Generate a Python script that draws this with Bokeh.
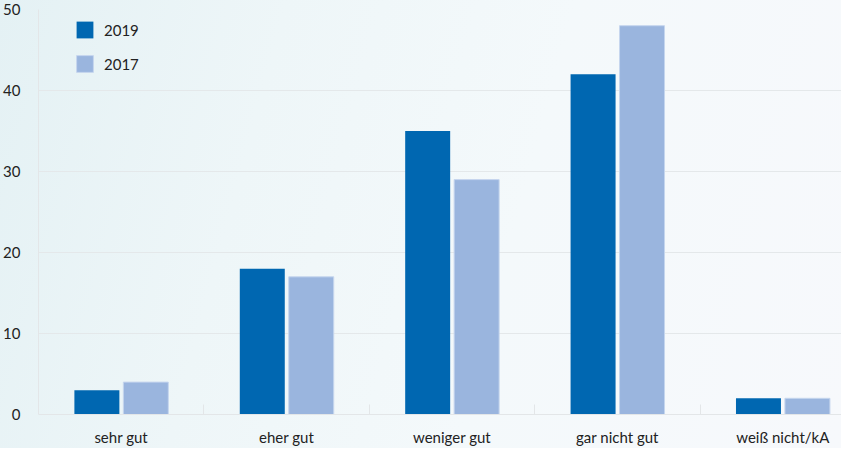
from bokeh.plotting import figure
from bokeh.models import Range1d, FixedTicker, Legend, LegendItem, ColumnDataSource, InlineStyleSheet
from bokeh.embed import file_html
from bokeh.resources import INLINE

categories = ["sehr gut", "eher gut", "weniger gut", "gar nicht gut", "weiß nicht/kA"]
values_2019 = [3, 18, 35, 42, 2]
values_2017 = [4, 17, 29, 48, 2]
y_ticks = [0, 10, 20, 30, 40, 50]

FONT = "Lato"
TXT = "#222222"

p = figure(width=841, height=448, output_backend="svg", toolbar_location=None,
           x_range=Range1d(0, 4.855), y_range=Range1d(0, 50),
           min_border_left=37, min_border_right=0, min_border_top=9, min_border_bottom=29)

p.background_fill_alpha = 0
p.border_fill_alpha = 0
p.outline_line_color = None
p.stylesheets = [InlineStyleSheet(css=
    ":host { background: linear-gradient(105deg, #e4f1f4 0%, #eef6f8 30%, #f4f9fb 60%, #f7f9fc 100%); }")]

idx = list(range(len(categories)))
src = ColumnDataSource(dict(
    x19=[i + 0.353 for i in idx], x17=[i + 0.649 for i in idx],
    v19=values_2019, v17=values_2017))

r19 = p.vbar(x="x19", top="v19", bottom=0, width=0.272, source=src,
             fill_color="#0067b1", line_color=None)
r17 = p.vbar(x="x17", top="v17", bottom=0, width=0.272, source=src,
             fill_color="#9ab5de", line_color="#c6d6ee", line_width=1)

# x axis
xa = p.xaxis[0]
xa.ticker = FixedTicker(ticks=[i + 0.5 for i in idx], minor_ticks=[1, 2, 3, 4])
xa.major_label_overrides = {i + 0.5: c for i, c in zip(idx, categories)}
xa.major_tick_line_color = None
xa.minor_tick_in = 10
xa.minor_tick_out = 0
xa.minor_tick_line_color = "#e3e6e8"
xa.axis_line_color = "#e3e6e8"
xa.major_label_standoff = 7
xa.major_label_text_font = FONT
xa.major_label_text_font_size = "15px"
xa.major_label_text_color = TXT

# y axis
ya = p.yaxis[0]
ya.ticker = FixedTicker(ticks=y_ticks)
ya.major_tick_line_color = None
ya.minor_tick_line_color = None
ya.axis_line_color = "#e3e6e8"
ya.major_label_standoff = 12
ya.major_label_text_font = FONT
ya.major_label_text_font_size = "15px"
ya.major_label_text_color = TXT
ya.major_label_text_baseline = "top"

p.xgrid.grid_line_color = None
p.ygrid.grid_line_color = "#e4e8ea"
p.ygrid.ticker = FixedTicker(ticks=y_ticks)

legend = Legend(items=[LegendItem(label="2019", renderers=[r19]),
                       LegendItem(label="2017", renderers=[r17])],
                location=(36, 340), orientation="vertical",
                glyph_width=21, glyph_height=21, label_height=21,
                spacing=13, padding=0, margin=0, label_standoff=9,
                background_fill_alpha=0, border_line_color=None,
                label_text_font=FONT, label_text_font_size="15px",
                label_text_color=TXT)
p.add_layout(legend, "center")

open("out.html", "w").write(file_html(p, INLINE))
